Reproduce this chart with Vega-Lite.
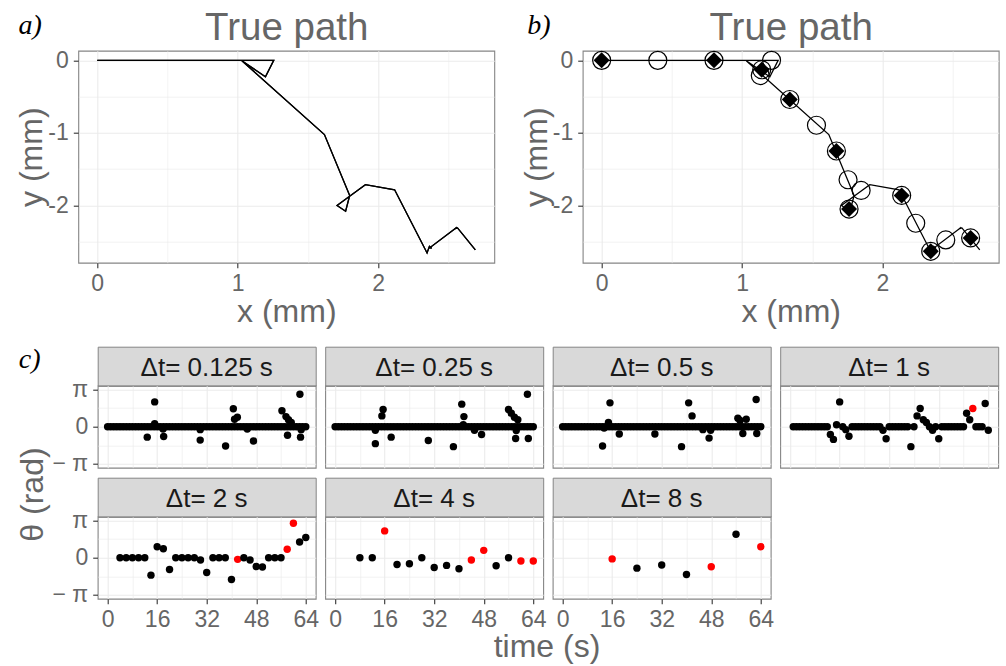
{
"$schema": "https://vega.github.io/schema/vega-lite/v6.json",
"autosize": {"type": "none"},
"padding": {"left": 78.3, "top": 50.7, "right": 927.7, "bottom": 615.3},
"background": "white",
"config": {
  "font": "Liberation Sans",
  "view": {"stroke": "#858585", "strokeWidth": 1.1},
  "axis": {"labelFont": "Liberation Sans", "labelFontSize": 23, "labelColor": "#666666", "labelFlush": false, "labelOverlap": false, "tickColor": "#333333", "tickSize": 5, "tickWidth": 1.1, "labelPadding": 5, "domain": false, "gridColor": "#ebebeb", "titleFont": "Liberation Sans", "titleFontSize": 32, "titleFontWeight": "normal", "titleColor": "#666666"},
  "title": {"font": "Liberation Sans", "fontWeight": "normal"}
},
"datasets": {
  "path": [
    {"i":1,"x":0,"y":0},{"i":2,"x":1.257,"y":0},{"i":3,"x":1.198,"y":-0.227},{"i":4,"x":1.03,"y":-0.005},{"i":5,"x":1.618,"y":-1.024},{"i":6,"x":1.798,"y":-1.863},{"i":7,"x":1.769,"y":-2.08},{"i":8,"x":1.708,"y":-2.001},{"i":9,"x":1.8,"y":-1.87},{"i":10,"x":1.91,"y":-1.715},{"i":11,"x":2.118,"y":-1.784},{"i":12,"x":2.349,"y":-2.656},{"i":13,"x":2.366,"y":-2.565},{"i":14,"x":2.382,"y":-2.59},{"i":15,"x":2.368,"y":-2.585},{"i":16,"x":2.562,"y":-2.301},{"i":17,"x":2.546,"y":-2.322},{"i":18,"x":2.566,"y":-2.31},{"i":19,"x":2.693,"y":-2.614}
  ],
  "s4": [
    {"t":0,"x":0,"y":0},{"t":4,"x":0.4,"y":0},{"t":8,"x":0.8,"y":0},{"t":12,"x":1.21,"y":0},{"t":16,"x":1.14,"y":-0.13},{"t":20,"x":1.13,"y":-0.21},{"t":24,"x":1.34,"y":-0.54},{"t":28,"x":1.53,"y":-0.895},{"t":32,"x":1.672,"y":-1.25},{"t":36,"x":1.755,"y":-1.646},{"t":40,"x":1.762,"y":-2.05},{"t":44,"x":1.848,"y":-1.794},{"t":48,"x":2.137,"y":-1.863},{"t":52,"x":2.237,"y":-2.246},{"t":56,"x":2.344,"y":-2.633},{"t":60,"x":2.451,"y":-2.476},{"t":64,"x":2.628,"y":-2.449}
  ],
  "s8": [
    {"t":0,"x":0,"y":0},{"t":8,"x":0.8,"y":0},{"t":16,"x":1.14,"y":-0.13},{"t":24,"x":1.34,"y":-0.54},{"t":32,"x":1.672,"y":-1.25},{"t":40,"x":1.762,"y":-2.05},{"t":48,"x":2.137,"y":-1.863},{"t":56,"x":2.344,"y":-2.633},{"t":64,"x":2.628,"y":-2.449}
  ],
  "labels": [
    {"dt":"0.125","lab":"Δt= 0.125 s"},{"dt":"0.25","lab":"Δt= 0.25 s"},{"dt":"0.5","lab":"Δt= 0.5 s"},{"dt":"1","lab":"Δt= 1 s"},{"dt":"2","lab":"Δt= 2 s"},{"dt":"4","lab":"Δt= 4 s"},{"dt":"8","lab":"Δt= 8 s"}
  ],
  "p1": [
    {"t":0,"h":0,"c":"k"},{"t":1,"h":0,"c":"k"},{"t":2,"h":0,"c":"k"},{"t":3,"h":0,"c":"k"},{"t":4,"h":0,"c":"k"},{"t":5,"h":0,"c":"k"},{"t":6,"h":0,"c":"k"},{"t":7,"h":0,"c":"k"},{"t":8,"h":0,"c":"k"},{"t":9,"h":0,"c":"k"},{"t":10,"h":0,"c":"k"},{"t":11,"h":0,"c":"k"},{"t":12,"h":0,"c":"k"},{"t":13,"h":0,"c":"k"},{"t":14,"h":0,"c":"k"},{"t":15,"h":0,"c":"k"},{"t":16,"h":0,"c":"k"},{"t":17,"h":0,"c":"k"},{"t":18,"h":0,"c":"k"},{"t":19,"h":0,"c":"k"},{"t":20,"h":0,"c":"k"},{"t":21,"h":0,"c":"k"},{"t":22,"h":0,"c":"k"},{"t":23,"h":0,"c":"k"},{"t":24,"h":0,"c":"k"},{"t":25,"h":0,"c":"k"},{"t":26,"h":0,"c":"k"},{"t":27,"h":0,"c":"k"},{"t":28,"h":0,"c":"k"},{"t":29,"h":0,"c":"k"},{"t":30,"h":0,"c":"k"},{"t":31,"h":0,"c":"k"},{"t":32,"h":0,"c":"k"},{"t":33,"h":0,"c":"k"},{"t":34,"h":0,"c":"k"},{"t":35,"h":0,"c":"k"},{"t":36,"h":0,"c":"k"},{"t":37,"h":0,"c":"k"},{"t":38,"h":0,"c":"k"},{"t":39,"h":0,"c":"k"},{"t":40,"h":0,"c":"k"},{"t":41,"h":0,"c":"k"},{"t":42,"h":0,"c":"k"},{"t":43,"h":0,"c":"k"},{"t":44,"h":0,"c":"k"},{"t":45,"h":0,"c":"k"},{"t":46,"h":0,"c":"k"},{"t":47,"h":0,"c":"k"},{"t":48,"h":0,"c":"k"},{"t":49,"h":0,"c":"k"},{"t":50,"h":0,"c":"k"},{"t":51,"h":0,"c":"k"},{"t":52,"h":0,"c":"k"},{"t":53,"h":0,"c":"k"},{"t":54,"h":0,"c":"k"},{"t":55,"h":0,"c":"k"},{"t":56,"h":0,"c":"k"},{"t":57,"h":0,"c":"k"},{"t":58,"h":0,"c":"k"},{"t":59,"h":0,"c":"k"},{"t":60,"h":0,"c":"k"},{"t":61,"h":0,"c":"k"},{"t":62,"h":0,"c":"k"},{"t":63,"h":0,"c":"k"},{"t":64,"h":0,"c":"k"},
    {"t":12.8,"h":-0.88,"c":"k"},{"t":15.2,"h":2.09,"c":"k"},{"t":15.2,"h":0.25,"c":"k"},{"t":17.9,"h":-0.19,"c":"k"},{"t":18.1,"h":-0.83,"c":"k"},{"t":29.9,"h":-0.25,"c":"k"},{"t":29.9,"h":-1.13,"c":"k"},{"t":38.1,"h":-1.63,"c":"k"},{"t":40.6,"h":1.52,"c":"k"},{"t":41.0,"h":0.63,"c":"k"},{"t":41.9,"h":0.8,"c":"k"},{"t":45.1,"h":-0.19,"c":"k"},{"t":47.1,"h":-1.21,"c":"k"},{"t":56.3,"h":1.35,"c":"k"},{"t":57.6,"h":0.85,"c":"k"},{"t":58.4,"h":0.58,"c":"k"},{"t":59.3,"h":0.36,"c":"k"},{"t":58.1,"h":-0.72,"c":"k"},{"t":62.1,"h":2.73,"c":"k"},{"t":62.3,"h":-0.88,"c":"k"},{"t":62.5,"h":-0.25,"c":"k"}
  ],
  "p2": [
    {"t":0,"h":0,"c":"k"},{"t":1,"h":0,"c":"k"},{"t":2,"h":0,"c":"k"},{"t":3,"h":0,"c":"k"},{"t":4,"h":0,"c":"k"},{"t":5,"h":0,"c":"k"},{"t":6,"h":0,"c":"k"},{"t":7,"h":0,"c":"k"},{"t":8,"h":0,"c":"k"},{"t":9,"h":0,"c":"k"},{"t":10,"h":0,"c":"k"},{"t":11,"h":0,"c":"k"},{"t":12,"h":0,"c":"k"},{"t":13,"h":0,"c":"k"},{"t":14,"h":0,"c":"k"},{"t":15,"h":0,"c":"k"},{"t":16,"h":0,"c":"k"},{"t":17,"h":0,"c":"k"},{"t":18,"h":0,"c":"k"},{"t":19,"h":0,"c":"k"},{"t":20,"h":0,"c":"k"},{"t":21,"h":0,"c":"k"},{"t":22,"h":0,"c":"k"},{"t":23,"h":0,"c":"k"},{"t":24,"h":0,"c":"k"},{"t":25,"h":0,"c":"k"},{"t":26,"h":0,"c":"k"},{"t":27,"h":0,"c":"k"},{"t":28,"h":0,"c":"k"},{"t":29,"h":0,"c":"k"},{"t":30,"h":0,"c":"k"},{"t":31,"h":0,"c":"k"},{"t":32,"h":0,"c":"k"},{"t":33,"h":0,"c":"k"},{"t":34,"h":0,"c":"k"},{"t":35,"h":0,"c":"k"},{"t":36,"h":0,"c":"k"},{"t":37,"h":0,"c":"k"},{"t":38,"h":0,"c":"k"},{"t":39,"h":0,"c":"k"},{"t":40,"h":0,"c":"k"},{"t":41,"h":0,"c":"k"},{"t":42,"h":0,"c":"k"},{"t":43,"h":0,"c":"k"},{"t":44,"h":0,"c":"k"},{"t":45,"h":0,"c":"k"},{"t":46,"h":0,"c":"k"},{"t":47,"h":0,"c":"k"},{"t":48,"h":0,"c":"k"},{"t":49,"h":0,"c":"k"},{"t":50,"h":0,"c":"k"},{"t":51,"h":0,"c":"k"},{"t":52,"h":0,"c":"k"},{"t":53,"h":0,"c":"k"},{"t":54,"h":0,"c":"k"},{"t":55,"h":0,"c":"k"},{"t":56,"h":0,"c":"k"},{"t":57,"h":0,"c":"k"},{"t":58,"h":0,"c":"k"},{"t":59,"h":0,"c":"k"},{"t":60,"h":0,"c":"k"},{"t":61,"h":0,"c":"k"},{"t":62,"h":0,"c":"k"},{"t":63,"h":0,"c":"k"},{"t":64,"h":0,"c":"k"},
    {"t":15.5,"h":1.46,"c":"k"},{"t":15.1,"h":0.91,"c":"k"},{"t":13,"h":-1.43,"c":"k"},{"t":13,"h":-0.3,"c":"k"},{"t":18.1,"h":-0.88,"c":"k"},{"t":30.1,"h":-1.16,"c":"k"},{"t":38.2,"h":-1.68,"c":"k"},{"t":40.9,"h":1.9,"c":"k"},{"t":41.6,"h":0.85,"c":"k"},{"t":41.4,"h":0.17,"c":"k"},{"t":45,"h":-0.3,"c":"k"},{"t":47.3,"h":-0.66,"c":"k"},{"t":56,"h":1.46,"c":"k"},{"t":56.9,"h":1.13,"c":"k"},{"t":57.9,"h":0.8,"c":"k"},{"t":59,"h":0.58,"c":"k"},{"t":58.3,"h":-0.99,"c":"k"},{"t":62.1,"h":2.73,"c":"k"},{"t":62.4,"h":-0.99,"c":"k"},{"t":58.5,"h":-0.33,"c":"k"}
  ],
  "p3": [
    {"t":0,"h":0,"c":"k"},{"t":1,"h":0,"c":"k"},{"t":2,"h":0,"c":"k"},{"t":3,"h":0,"c":"k"},{"t":4,"h":0,"c":"k"},{"t":5,"h":0,"c":"k"},{"t":6,"h":0,"c":"k"},{"t":7,"h":0,"c":"k"},{"t":8,"h":0,"c":"k"},{"t":9,"h":0,"c":"k"},{"t":10,"h":0,"c":"k"},{"t":11,"h":0,"c":"k"},{"t":12,"h":0,"c":"k"},{"t":13,"h":0,"c":"k"},{"t":14,"h":0,"c":"k"},{"t":15,"h":0,"c":"k"},{"t":16,"h":0,"c":"k"},{"t":17,"h":0,"c":"k"},{"t":18,"h":0,"c":"k"},{"t":19,"h":0,"c":"k"},{"t":20,"h":0,"c":"k"},{"t":21,"h":0,"c":"k"},{"t":22,"h":0,"c":"k"},{"t":23,"h":0,"c":"k"},{"t":24,"h":0,"c":"k"},{"t":25,"h":0,"c":"k"},{"t":26,"h":0,"c":"k"},{"t":27,"h":0,"c":"k"},{"t":28,"h":0,"c":"k"},{"t":29,"h":0,"c":"k"},{"t":30,"h":0,"c":"k"},{"t":31,"h":0,"c":"k"},{"t":32,"h":0,"c":"k"},{"t":33,"h":0,"c":"k"},{"t":34,"h":0,"c":"k"},{"t":35,"h":0,"c":"k"},{"t":36,"h":0,"c":"k"},{"t":37,"h":0,"c":"k"},{"t":38,"h":0,"c":"k"},{"t":39,"h":0,"c":"k"},{"t":40,"h":0,"c":"k"},{"t":41,"h":0,"c":"k"},{"t":42,"h":0,"c":"k"},{"t":43,"h":0,"c":"k"},{"t":44,"h":0,"c":"k"},{"t":45,"h":0,"c":"k"},{"t":46,"h":0,"c":"k"},{"t":47,"h":0,"c":"k"},{"t":48,"h":0,"c":"k"},{"t":49,"h":0,"c":"k"},{"t":50,"h":0,"c":"k"},{"t":51,"h":0,"c":"k"},{"t":52,"h":0,"c":"k"},{"t":53,"h":0,"c":"k"},{"t":54,"h":0,"c":"k"},{"t":55,"h":0,"c":"k"},{"t":56,"h":0,"c":"k"},{"t":57,"h":0,"c":"k"},{"t":58,"h":0,"c":"k"},{"t":59,"h":0,"c":"k"},{"t":60,"h":0,"c":"k"},{"t":61,"h":0,"c":"k"},{"t":62,"h":0,"c":"k"},{"t":63,"h":0,"c":"k"},{"t":64,"h":0,"c":"k"},
    {"t":15.3,"h":2.01,"c":"k"},{"t":14.8,"h":0.36,"c":"k"},{"t":13.4,"h":-0.11,"c":"k"},{"t":12.9,"h":-1.63,"c":"k"},{"t":18.3,"h":-0.61,"c":"k"},{"t":29.8,"h":-0.61,"c":"k"},{"t":38.4,"h":-1.68,"c":"k"},{"t":40.7,"h":2.01,"c":"k"},{"t":41.8,"h":0.91,"c":"k"},{"t":45.3,"h":-0.25,"c":"k"},{"t":47.3,"h":-0.96,"c":"k"},{"t":47.8,"h":-0.3,"c":"k"},{"t":56.6,"h":0.72,"c":"k"},{"t":57.3,"h":0.52,"c":"k"},{"t":59.3,"h":0.63,"c":"k"},{"t":58.2,"h":-0.58,"c":"k"},{"t":62.5,"h":2.29,"c":"k"},{"t":62.7,"h":-0.58,"c":"k"}
  ],
  "p4": [
    {"t":1,"h":0,"c":"k"},{"t":2,"h":0,"c":"k"},{"t":3,"h":0,"c":"k"},{"t":4,"h":0,"c":"k"},{"t":5,"h":0,"c":"k"},{"t":6,"h":0,"c":"k"},{"t":7,"h":0,"c":"k"},{"t":8,"h":0,"c":"k"},{"t":9,"h":0,"c":"k"},{"t":10,"h":0,"c":"k"},{"t":11,"h":0,"c":"k"},{"t":12,"h":0,"c":"k"},{"t":13,"h":-0.66,"c":"k"},{"t":14,"h":-1.07,"c":"k"},{"t":15,"h":0.17,"c":"k"},{"t":16,"h":2.09,"c":"k"},{"t":17,"h":0,"c":"k"},{"t":18,"h":-0.25,"c":"k"},{"t":19,"h":-0.8,"c":"k"},{"t":20,"h":0,"c":"k"},{"t":21,"h":0,"c":"k"},{"t":22,"h":0,"c":"k"},{"t":23,"h":0,"c":"k"},{"t":24,"h":0,"c":"k"},{"t":25,"h":0,"c":"k"},{"t":26,"h":0,"c":"k"},{"t":27,"h":0,"c":"k"},{"t":28,"h":0,"c":"k"},{"t":29,"h":0,"c":"k"},{"t":30,"h":-0.3,"c":"k"},{"t":31,"h":-1.02,"c":"k"},{"t":32,"h":0,"c":"k"},{"t":33,"h":0,"c":"k"},{"t":34,"h":0,"c":"k"},{"t":35,"h":0,"c":"k"},{"t":36,"h":0,"c":"k"},{"t":37,"h":0,"c":"k"},{"t":38,"h":0,"c":"k"},{"t":39,"h":-1.68,"c":"k"},{"t":40,"h":0,"c":"k"},{"t":41,"h":0.91,"c":"k"},{"t":42,"h":1.54,"c":"k"},{"t":43,"h":0.58,"c":"k"},{"t":44,"h":0.36,"c":"k"},{"t":45,"h":0,"c":"k"},{"t":46,"h":-0.3,"c":"k"},{"t":47,"h":0,"c":"k"},{"t":48,"h":-1.02,"c":"k"},{"t":49,"h":0,"c":"k"},{"t":50,"h":0,"c":"k"},{"t":51,"h":0,"c":"k"},{"t":52,"h":0,"c":"k"},{"t":53,"h":0,"c":"k"},{"t":54,"h":0,"c":"k"},{"t":55,"h":0,"c":"k"},{"t":56,"h":0,"c":"k"},{"t":57,"h":1.13,"c":"k"},{"t":58,"h":0.58,"c":"k"},{"t":59,"h":1.54,"c":"r"},{"t":60,"h":0,"c":"k"},{"t":61,"h":0,"c":"k"},{"t":62,"h":0,"c":"k"},{"t":63,"h":1.96,"c":"k"},{"t":64,"h":-0.3,"c":"k"}
  ],
  "p5": [
    {"t":4,"h":0,"c":"k"},{"t":6,"h":0,"c":"k"},{"t":8,"h":0,"c":"k"},{"t":10,"h":0,"c":"k"},{"t":12,"h":0,"c":"k"},{"t":14,"h":-1.47,"c":"k"},{"t":16,"h":0.93,"c":"k"},{"t":18,"h":0.76,"c":"k"},{"t":20,"h":-0.99,"c":"k"},{"t":22,"h":0,"c":"k"},{"t":24,"h":0,"c":"k"},{"t":26,"h":0,"c":"k"},{"t":28,"h":0,"c":"k"},{"t":30,"h":-0.2,"c":"k"},{"t":32,"h":-1.25,"c":"k"},{"t":34,"h":0,"c":"k"},{"t":36,"h":0,"c":"k"},{"t":38,"h":0,"c":"k"},{"t":40,"h":-1.84,"c":"k"},{"t":42,"h":-0.14,"c":"r"},{"t":44,"h":0,"c":"k"},{"t":46,"h":-0.2,"c":"k"},{"t":48,"h":-0.74,"c":"k"},{"t":50,"h":-0.79,"c":"k"},{"t":52,"h":0,"c":"k"},{"t":54,"h":0,"c":"k"},{"t":56,"h":0,"c":"k"},{"t":58,"h":0.71,"c":"r"},{"t":60,"h":2.91,"c":"r"},{"t":62,"h":1.33,"c":"k"},{"t":64,"h":1.7,"c":"k"}
  ],
  "p6": [
    {"t":8,"h":0,"c":"k"},{"t":12,"h":0,"c":"k"},{"t":16,"h":2.26,"c":"r"},{"t":20,"h":-0.57,"c":"k"},{"t":24,"h":-0.51,"c":"k"},{"t":28,"h":0,"c":"k"},{"t":32,"h":-0.82,"c":"k"},{"t":36,"h":-0.65,"c":"k"},{"t":40,"h":-0.93,"c":"k"},{"t":44,"h":-0.2,"c":"r"},{"t":48,"h":0.62,"c":"r"},{"t":52,"h":-0.68,"c":"k"},{"t":56,"h":0,"c":"k"},{"t":60,"h":-0.28,"c":"r"},{"t":64,"h":-0.28,"c":"r"}
  ],
  "p7": [
    {"t":16,"h":-0.1,"c":"r"},{"t":24,"h":-0.88,"c":"k"},{"t":32,"h":-0.62,"c":"k"},{"t":40,"h":-1.41,"c":"k"},{"t":48,"h":-0.76,"c":"r"},{"t":56,"h":1.98,"c":"k"},{"t":64,"h":0.93,"c":"r"}
  ]
},
"vconcat": [
  {
    "hconcat": [
      {
        "width": 416, "height": 212,
        "data": {"name": "path"},
        "layer": [
          {"mark": {"type": "line", "color": "#000000", "strokeWidth": 1.3},
           "encoding": {
              "order": {"field": "i", "type": "quantitative"},
              "x": {"field": "x", "type": "quantitative", "scale": {"domain": [-0.135, 2.828], "nice": false, "zero": false},
                "axis": {"values": [0,0.5,1,1.5,2,2.5], "title": "x (mm)", "titleX": 208, "titleY": 58.3, "titleBaseline": "alphabetic", "titleAlign": "center",
                       "labelExpr": "datum.value % 1 === 0 ? '' + datum.value : ''",
                       "tickOpacity": {"condition": {"test": "datum.value % 1 !== 0", "value": 0}, "value": 1},
                       "gridWidth": {"condition": {"test": "datum.value % 1 !== 0", "value": 0.6}, "value": 1.1}}},
              "y": {"field": "y", "type": "quantitative", "scale": {"domain": [-2.79, 0.133], "nice": false, "zero": false},
                "axis": {"values": [-2.5,-2,-1.5,-1,-0.5,0], "title": "y (mm)", "titleX": -36.6, "titleY": 106, "titleAngle": 270, "titleBaseline": "alphabetic", "titleAlign": "center",
                         "labelExpr": "datum.value % 1 === 0 ? (datum.value < 0 ? '-' + abs(datum.value) : '' + datum.value) : ''",
                         "tickOpacity": {"condition": {"test": "datum.value % 1 !== 0", "value": 0}, "value": 1},
                         "gridWidth": {"condition": {"test": "datum.value % 1 !== 0", "value": 0.6}, "value": 1.1}}}}},
          {"mark": {"type": "line", "color": "#000000", "strokeWidth": 1.3},
           "encoding": {
              "order": {"field": "i", "type": "quantitative"},
              "x": {"field": "x", "type": "quantitative", "scale": {"domain": [-0.135, 2.828], "nice": false, "zero": false},
                "axis": {"orient": "top", "title": "True path", "labels": false, "ticks": false, "grid": false, "titleX": 208, "titleY": -11.4, "titleAlign": "center", "titleBaseline": "alphabetic", "titleAngle": 0, "titleFontSize": 38.5}},
              "y": {"field": "y", "type": "quantitative", "scale": {"domain": [-2.79, 0.133], "nice": false, "zero": false},
                "axis": {"orient": "right", "title": "a)", "labels": false, "ticks": false, "grid": false, "titleX": -476.3, "titleY": -17.7, "titleAlign": "left", "titleBaseline": "alphabetic", "titleAngle": 0, "titleFont": "Liberation Serif", "titleFontStyle": "italic", "titleFontSize": 28, "titleColor": "#000000"}}}}
        ],
        "resolve": {"axis": {"x": "independent", "y": "independent"}}
      },
      {
        "width": 416, "height": 212,
        "layer": [
          {"data": {"name": "path"},
           "mark": {"type": "line", "color": "#000000", "strokeWidth": 1.3},
           "encoding": {
              "order": {"field": "i", "type": "quantitative"},
              "x": {"field": "x", "type": "quantitative", "scale": {"domain": [-0.135, 2.828], "nice": false, "zero": false},
                "axis": {"values": [0,0.5,1,1.5,2,2.5], "title": "x (mm)", "titleX": 208, "titleY": 58.3, "titleBaseline": "alphabetic", "titleAlign": "center",
                       "labelExpr": "datum.value % 1 === 0 ? '' + datum.value : ''",
                       "tickOpacity": {"condition": {"test": "datum.value % 1 !== 0", "value": 0}, "value": 1},
                       "gridWidth": {"condition": {"test": "datum.value % 1 !== 0", "value": 0.6}, "value": 1.1}}},
              "y": {"field": "y", "type": "quantitative", "scale": {"domain": [-2.79, 0.133], "nice": false, "zero": false},
                "axis": {"values": [-2.5,-2,-1.5,-1,-0.5,0], "title": "y (mm)", "titleX": -36.6, "titleY": 106, "titleAngle": 270, "titleBaseline": "alphabetic", "titleAlign": "center",
                         "labelExpr": "datum.value % 1 === 0 ? (datum.value < 0 ? '-' + abs(datum.value) : '' + datum.value) : ''",
                         "tickOpacity": {"condition": {"test": "datum.value % 1 !== 0", "value": 0}, "value": 1},
                         "gridWidth": {"condition": {"test": "datum.value % 1 !== 0", "value": 0.6}, "value": 1.1}}}}},
          {"data": {"name": "s4"},
           "mark": {"type": "point", "shape": "circle", "filled": false, "color": "#000000", "strokeWidth": 1.2, "size": 324, "opacity": 1},
           "encoding": {
              "x": {"field": "x", "type": "quantitative", "scale": {"domain": [-0.135, 2.828], "nice": false, "zero": false},
                "axis": {"orient": "top", "title": "True path", "labels": false, "ticks": false, "grid": false, "titleX": 208, "titleY": -11.4, "titleAlign": "center", "titleBaseline": "alphabetic", "titleAngle": 0, "titleFontSize": 38.5}},
              "y": {"field": "y", "type": "quantitative", "scale": {"domain": [-2.79, 0.133], "nice": false, "zero": false},
                "axis": {"orient": "right", "title": "b)", "labels": false, "ticks": false, "grid": false, "titleX": -472, "titleY": -17.7, "titleAlign": "left", "titleBaseline": "alphabetic", "titleAngle": 0, "titleFont": "Liberation Serif", "titleFontStyle": "italic", "titleFontSize": 28, "titleColor": "#000000"}}}},
          {"data": {"name": "s8"},
           "mark": {"type": "point", "shape": "diamond", "filled": true, "color": "#000000", "size": 256, "opacity": 1},
           "encoding": {
              "x": {"field": "x", "type": "quantitative", "scale": {"domain": [-0.135, 2.828], "nice": false, "zero": false}, "axis": null},
              "y": {"field": "y", "type": "quantitative", "scale": {"domain": [-2.79, 0.133], "nice": false, "zero": false}, "axis": null}}}
        ],
        "resolve": {"axis": {"x": "independent", "y": "independent"}}
      }
    ],
    "bounds": "flush",
    "spacing": 88.4
  },
  {
    "hconcat": [
      {
        "width": 10, "height": 252,
        "data": {"values": []},
        "mark": "point",
        "view": {"stroke": null}
      },
      {
        "concat": [
          {"width": 218, "height": 39, "data": {"name": "labels"}, "transform": [{"filter": "datum.dt === '0.125'"}],
           "mark": {"type": "text", "fontSize": 26, "color": "#1a1a1a", "dy": 2}, "encoding": {"text": {"field": "lab"}},
           "view": {"fill": "#d9d9d9", "stroke": "#858585"}},
          {"width": 218, "height": 39, "data": {"name": "labels"}, "transform": [{"filter": "datum.dt === '0.25'"}],
           "mark": {"type": "text", "fontSize": 26, "color": "#1a1a1a", "dy": 2}, "encoding": {"text": {"field": "lab"}},
           "view": {"fill": "#d9d9d9", "stroke": "#858585"}},
          {"width": 218, "height": 39, "data": {"name": "labels"}, "transform": [{"filter": "datum.dt === '0.5'"}],
           "mark": {"type": "text", "fontSize": 26, "color": "#1a1a1a", "dy": 2}, "encoding": {"text": {"field": "lab"}},
           "view": {"fill": "#d9d9d9", "stroke": "#858585"}},
          {"width": 218, "height": 39, "data": {"name": "labels"}, "transform": [{"filter": "datum.dt === '1'"}],
           "mark": {"type": "text", "fontSize": 26, "color": "#1a1a1a", "dy": 2}, "encoding": {"text": {"field": "lab"}},
           "view": {"fill": "#d9d9d9", "stroke": "#858585"}},

          {"width": 218, "height": 82, "data": {"name": "p1"},
           "mark": {"type": "point", "filled": true, "size": 55, "opacity": 1},
           "encoding": {
             "x": {"field": "t", "type": "quantitative", "scale": {"domain": [-3.2, 67.2], "nice": false, "zero": false},
                   "axis": {"values": [0,8,16,24,32,40,48,56,64], "labels": false, "ticks": false, "title": "c)", "titleX": -79.4, "titleY": -100.7, "titleAlign": "left", "titleBaseline": "alphabetic", "titleAngle": 0, "titleFont": "Liberation Serif", "titleFontStyle": "italic", "titleFontSize": 28, "titleColor": "#000000", "gridWidth": {"condition": {"test": "datum.value % 16 !== 0", "value": 0.6}, "value": 1.1}}},
             "y": {"field": "h", "type": "quantitative", "scale": {"domain": [-3.456, 3.456], "nice": false, "zero": false},
                   "axis": {"values": [-3.14159,-1.5708,0,1.5708,3.14159], "title": "θ (rad)", "titleX": -55, "titleY": 108.3, "titleAngle": 270, "titleAlign": "center", "titleBaseline": "alphabetic", "labelExpr": "datum.value > 3 ? 'π' : datum.value < -3 ? '− π' : abs(datum.value) < 1 ? '0' : ''", "tickOpacity": {"condition": {"test": "abs(datum.value) > 1 && abs(datum.value) < 2", "value": 0}, "value": 1}, "gridWidth": {"condition": {"test": "abs(datum.value) > 1 && abs(datum.value) < 2", "value": 0.6}, "value": 1.1}}},
             "color": {"field": "c", "type": "nominal", "scale": {"domain": ["k","r"], "range": ["#000000","#ff0000"]}, "legend": null}}},
          {"width": 218, "height": 82, "data": {"name": "p2"},
           "mark": {"type": "point", "filled": true, "size": 55, "opacity": 1},
           "encoding": {
             "x": {"field": "t", "type": "quantitative", "scale": {"domain": [-3.2, 67.2], "nice": false, "zero": false},
                   "axis": {"values": [0,8,16,24,32,40,48,56,64], "labels": false, "ticks": false, "title": null, "gridWidth": {"condition": {"test": "datum.value % 16 !== 0", "value": 0.6}, "value": 1.1}}},
             "y": {"field": "h", "type": "quantitative", "scale": {"domain": [-3.456, 3.456], "nice": false, "zero": false},
                   "axis": {"values": [-3.14159,-1.5708,0,1.5708,3.14159], "labels": false, "ticks": false, "title": null, "gridWidth": {"condition": {"test": "abs(datum.value) > 1 && abs(datum.value) < 2", "value": 0.6}, "value": 1.1}}},
             "color": {"field": "c", "type": "nominal", "scale": {"domain": ["k","r"], "range": ["#000000","#ff0000"]}, "legend": null}}},
          {"width": 218, "height": 82, "data": {"name": "p3"},
           "mark": {"type": "point", "filled": true, "size": 55, "opacity": 1},
           "encoding": {
             "x": {"field": "t", "type": "quantitative", "scale": {"domain": [-3.2, 67.2], "nice": false, "zero": false},
                   "axis": {"values": [0,8,16,24,32,40,48,56,64], "labels": false, "ticks": false, "title": null, "gridWidth": {"condition": {"test": "datum.value % 16 !== 0", "value": 0.6}, "value": 1.1}}},
             "y": {"field": "h", "type": "quantitative", "scale": {"domain": [-3.456, 3.456], "nice": false, "zero": false},
                   "axis": {"values": [-3.14159,-1.5708,0,1.5708,3.14159], "labels": false, "ticks": false, "title": null, "gridWidth": {"condition": {"test": "abs(datum.value) > 1 && abs(datum.value) < 2", "value": 0.6}, "value": 1.1}}},
             "color": {"field": "c", "type": "nominal", "scale": {"domain": ["k","r"], "range": ["#000000","#ff0000"]}, "legend": null}}},
          {"width": 218, "height": 82, "data": {"name": "p4"},
           "mark": {"type": "point", "filled": true, "size": 55, "opacity": 1},
           "encoding": {
             "x": {"field": "t", "type": "quantitative", "scale": {"domain": [-3.2, 67.2], "nice": false, "zero": false},
                   "axis": {"values": [0,8,16,24,32,40,48,56,64], "labels": false, "ticks": false, "title": null, "gridWidth": {"condition": {"test": "datum.value % 16 !== 0", "value": 0.6}, "value": 1.1}}},
             "y": {"field": "h", "type": "quantitative", "scale": {"domain": [-3.456, 3.456], "nice": false, "zero": false},
                   "axis": {"values": [-3.14159,-1.5708,0,1.5708,3.14159], "labels": false, "ticks": false, "title": null, "gridWidth": {"condition": {"test": "abs(datum.value) > 1 && abs(datum.value) < 2", "value": 0.6}, "value": 1.1}}},
             "color": {"field": "c", "type": "nominal", "scale": {"domain": ["k","r"], "range": ["#000000","#ff0000"]}, "legend": null}}},

          {"width": 218, "height": 10, "data": {"values": []}, "mark": "point", "view": {"stroke": null}},
          {"width": 218, "height": 10, "data": {"values": []}, "mark": "point", "view": {"stroke": null}},
          {"width": 218, "height": 10, "data": {"values": []}, "mark": "point", "view": {"stroke": null}},
          {"width": 218, "height": 10, "data": {"values": []}, "mark": "point", "view": {"stroke": null}},

          {"width": 218, "height": 39, "data": {"name": "labels"}, "transform": [{"filter": "datum.dt === '2'"}],
           "mark": {"type": "text", "fontSize": 26, "color": "#1a1a1a", "dy": 2}, "encoding": {"text": {"field": "lab"}},
           "view": {"fill": "#d9d9d9", "stroke": "#858585"}},
          {"width": 218, "height": 39, "data": {"name": "labels"}, "transform": [{"filter": "datum.dt === '4'"}],
           "mark": {"type": "text", "fontSize": 26, "color": "#1a1a1a", "dy": 2}, "encoding": {"text": {"field": "lab"}},
           "view": {"fill": "#d9d9d9", "stroke": "#858585"}},
          {"width": 218, "height": 39, "data": {"name": "labels"}, "transform": [{"filter": "datum.dt === '8'"}],
           "mark": {"type": "text", "fontSize": 26, "color": "#1a1a1a", "dy": 2}, "encoding": {"text": {"field": "lab"}},
           "view": {"fill": "#d9d9d9", "stroke": "#858585"}},
          {"width": 218, "height": 39, "data": {"values": []}, "mark": "point", "view": {"stroke": null}},

          {"width": 218, "height": 82, "data": {"name": "p5"},
           "mark": {"type": "point", "filled": true, "size": 55, "opacity": 1},
           "encoding": {
             "x": {"field": "t", "type": "quantitative", "scale": {"domain": [-3.2, 67.2], "nice": false, "zero": false},
                   "axis": {"values": [0,8,16,24,32,40,48,56,64], "title": null, "labelExpr": "datum.value % 16 === 0 ? '' + datum.value : ''", "tickOpacity": {"condition": {"test": "datum.value % 16 !== 0", "value": 0}, "value": 1}, "gridWidth": {"condition": {"test": "datum.value % 16 !== 0", "value": 0.6}, "value": 1.1}}},
             "y": {"field": "h", "type": "quantitative", "scale": {"domain": [-3.456, 3.456], "nice": false, "zero": false},
                   "axis": {"values": [-3.14159,-1.5708,0,1.5708,3.14159], "title": null, "labelExpr": "datum.value > 3 ? 'π' : datum.value < -3 ? '− π' : abs(datum.value) < 1 ? '0' : ''", "tickOpacity": {"condition": {"test": "abs(datum.value) > 1 && abs(datum.value) < 2", "value": 0}, "value": 1}, "gridWidth": {"condition": {"test": "abs(datum.value) > 1 && abs(datum.value) < 2", "value": 0.6}, "value": 1.1}}},
             "color": {"field": "c", "type": "nominal", "scale": {"domain": ["k","r"], "range": ["#000000","#ff0000"]}, "legend": null}}},
          {"width": 218, "height": 82, "data": {"name": "p6"},
           "mark": {"type": "point", "filled": true, "size": 55, "opacity": 1},
           "encoding": {
             "x": {"field": "t", "type": "quantitative", "scale": {"domain": [-3.2, 67.2], "nice": false, "zero": false},
                   "axis": {"values": [0,8,16,24,32,40,48,56,64], "title": "time (s)", "titleX": 221.3, "titleY": 57.3, "titleBaseline": "alphabetic", "titleAlign": "center", "labelExpr": "datum.value % 16 === 0 ? '' + datum.value : ''", "tickOpacity": {"condition": {"test": "datum.value % 16 !== 0", "value": 0}, "value": 1}, "gridWidth": {"condition": {"test": "datum.value % 16 !== 0", "value": 0.6}, "value": 1.1}}},
             "y": {"field": "h", "type": "quantitative", "scale": {"domain": [-3.456, 3.456], "nice": false, "zero": false},
                   "axis": {"values": [-3.14159,-1.5708,0,1.5708,3.14159], "labels": false, "ticks": false, "title": null, "gridWidth": {"condition": {"test": "abs(datum.value) > 1 && abs(datum.value) < 2", "value": 0.6}, "value": 1.1}}},
             "color": {"field": "c", "type": "nominal", "scale": {"domain": ["k","r"], "range": ["#000000","#ff0000"]}, "legend": null}}},
          {"width": 218, "height": 82, "data": {"name": "p7"},
           "mark": {"type": "point", "filled": true, "size": 55, "opacity": 1},
           "encoding": {
             "x": {"field": "t", "type": "quantitative", "scale": {"domain": [-3.2, 67.2], "nice": false, "zero": false},
                   "axis": {"values": [0,8,16,24,32,40,48,56,64], "title": null, "labelExpr": "datum.value % 16 === 0 ? '' + datum.value : ''", "tickOpacity": {"condition": {"test": "datum.value % 16 !== 0", "value": 0}, "value": 1}, "gridWidth": {"condition": {"test": "datum.value % 16 !== 0", "value": 0.6}, "value": 1.1}}},
             "y": {"field": "h", "type": "quantitative", "scale": {"domain": [-3.456, 3.456], "nice": false, "zero": false},
                   "axis": {"values": [-3.14159,-1.5708,0,1.5708,3.14159], "labels": false, "ticks": false, "title": null, "gridWidth": {"condition": {"test": "abs(datum.value) > 1 && abs(datum.value) < 2", "value": 0.6}, "value": 1.1}}},
             "color": {"field": "c", "type": "nominal", "scale": {"domain": ["k","r"], "range": ["#000000","#ff0000"]}, "legend": null}}}
        ],
        "columns": 4,
        "bounds": "flush",
        "align": "each",
        "spacing": {"row": 0, "column": 9.5}
      }
    ],
    "bounds": "flush",
    "spacing": 9.4
  }
],
"bounds": "flush",
"spacing": 296
}
